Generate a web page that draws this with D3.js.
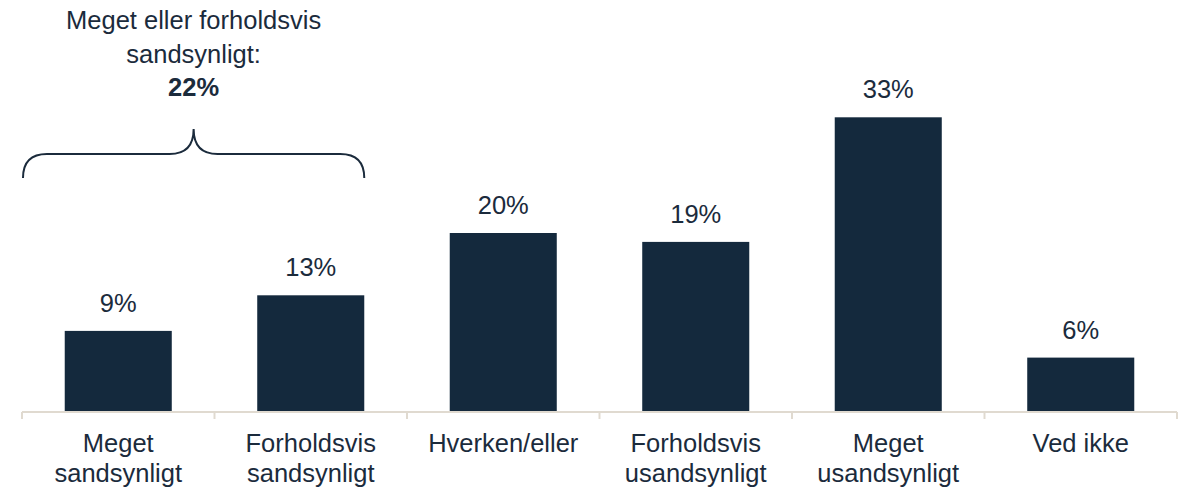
<!DOCTYPE html>
<html>
<head>
<meta charset="utf-8">
<script src="https://cdn.jsdelivr.net/npm/d3@7"></script>
<style>
  body { margin: 0; background: #fff; }
  svg { display: block; font-family: Arial, "Liberation Sans", sans-serif; }
</style>
</head>
<body>
<div id="chart"></div>
<script>
// data
let categories = [
    ['Meget', 'sandsynligt'],
    ['Forholdsvis', 'sandsynligt'],
    ['Hverken/eller'],
    ['Forholdsvis', 'usandsynligt'],
    ['Meget', 'usandsynligt'],
    ['Ved ikke'],
];
let values = [9, 13, 20, 19, 33, 6];
let braceText = ['Meget eller forholdsvis', 'sandsynligt:'];
let braceValue = '22%';

let width = 1181, height = 488;
let barColor = '#14293d';
let textColor = '#1b2b3c';
let fontSize = 25.5;

let svg = d3.select('#chart').append('svg')
    .attr('width', width)
    .attr('height', height);

let keys = categories.map(d => d.join(' '));

let x = d3.scaleBand()
    .domain(keys)
    .range([22, 1177])
    .paddingInner(0.444)
    .paddingOuter(0.222);

let y = d3.scaleLinear()
    .domain([0, 40])
    .range([411, 55]);

// 柱子
svg.selectAll('rect.bar')
    .data(values)
    .enter()
    .append('rect')
    .attr('class', 'bar')
    .attr('x', (d, i) => x(keys[i]))
    .attr('y', d => y(d))
    .attr('width', x.bandwidth())
    .attr('height', d => y(0) - y(d))
    .attr('fill', barColor);

// 数值标签
svg.selectAll('text.val')
    .data(values)
    .enter()
    .append('text')
    .attr('class', 'val')
    .attr('x', (d, i) => x(keys[i]) + x.bandwidth() / 2)
    .attr('y', d => y(d) - 19)
    .attr('text-anchor', 'middle')
    .attr('font-size', fontSize)
    .attr('fill', textColor)
    .text(d => d + '%');

// x 轴
let step = x.step();
let axisLeft = x.range()[0];
let axis = svg.append('g').attr('stroke', '#e0dad0').attr('stroke-width', 2);
axis.append('line')
    .attr('x1', axisLeft).attr('x2', axisLeft + step * keys.length)
    .attr('y1', y(0) + 1).attr('y2', y(0) + 1);
axis.selectAll('line.tick')
    .data(d3.range(keys.length + 1))
    .enter()
    .append('line')
    .attr('class', 'tick')
    .attr('x1', i => axisLeft + i * step)
    .attr('x2', i => axisLeft + i * step)
    .attr('y1', y(0) + 1)
    .attr('y2', y(0) + 8);

// 类别标签
let cat = svg.selectAll('text.cat')
    .data(categories)
    .enter()
    .append('text')
    .attr('class', 'cat')
    .attr('text-anchor', 'middle')
    .attr('font-size', fontSize)
    .attr('fill', textColor);
cat.selectAll('tspan')
    .data((d, i) => d.map(t => ({ t: t, i: i })))
    .enter()
    .append('tspan')
    .attr('x', d => x(keys[d.i]) + x.bandwidth() / 2)
    .attr('y', (d, j) => 452 + j * 30)
    .text(d => d.t);

// 大括号
let bl = axisLeft + 1;
let br = x(keys[1]) + x.bandwidth();
let bm = (bl + br) / 2;
let by = 178, bh = 154, bt = 129, r = 24;
let p = d3.path();
p.moveTo(bl, by);
p.quadraticCurveTo(bl, bh, bl + r, bh);
p.lineTo(bm - r, bh);
p.quadraticCurveTo(bm, bh, bm, bt);
p.quadraticCurveTo(bm, bh, bm + r, bh);
p.lineTo(br - r, bh);
p.quadraticCurveTo(br, bh, br, by);
svg.append('path')
    .attr('d', p.toString())
    .attr('fill', 'none')
    .attr('stroke', textColor)
    .attr('stroke-width', 2);

let ann = svg.append('text')
    .attr('text-anchor', 'middle')
    .attr('font-size', fontSize)
    .attr('fill', textColor);
braceText.forEach((t, j) => {
    ann.append('tspan').attr('x', bm).attr('y', 29 + j * 34).text(t);
});
ann.append('tspan').attr('x', bm).attr('y', 96)
    .attr('font-weight', 'bold')
    .text(braceValue);
</script>
</body>
</html>
